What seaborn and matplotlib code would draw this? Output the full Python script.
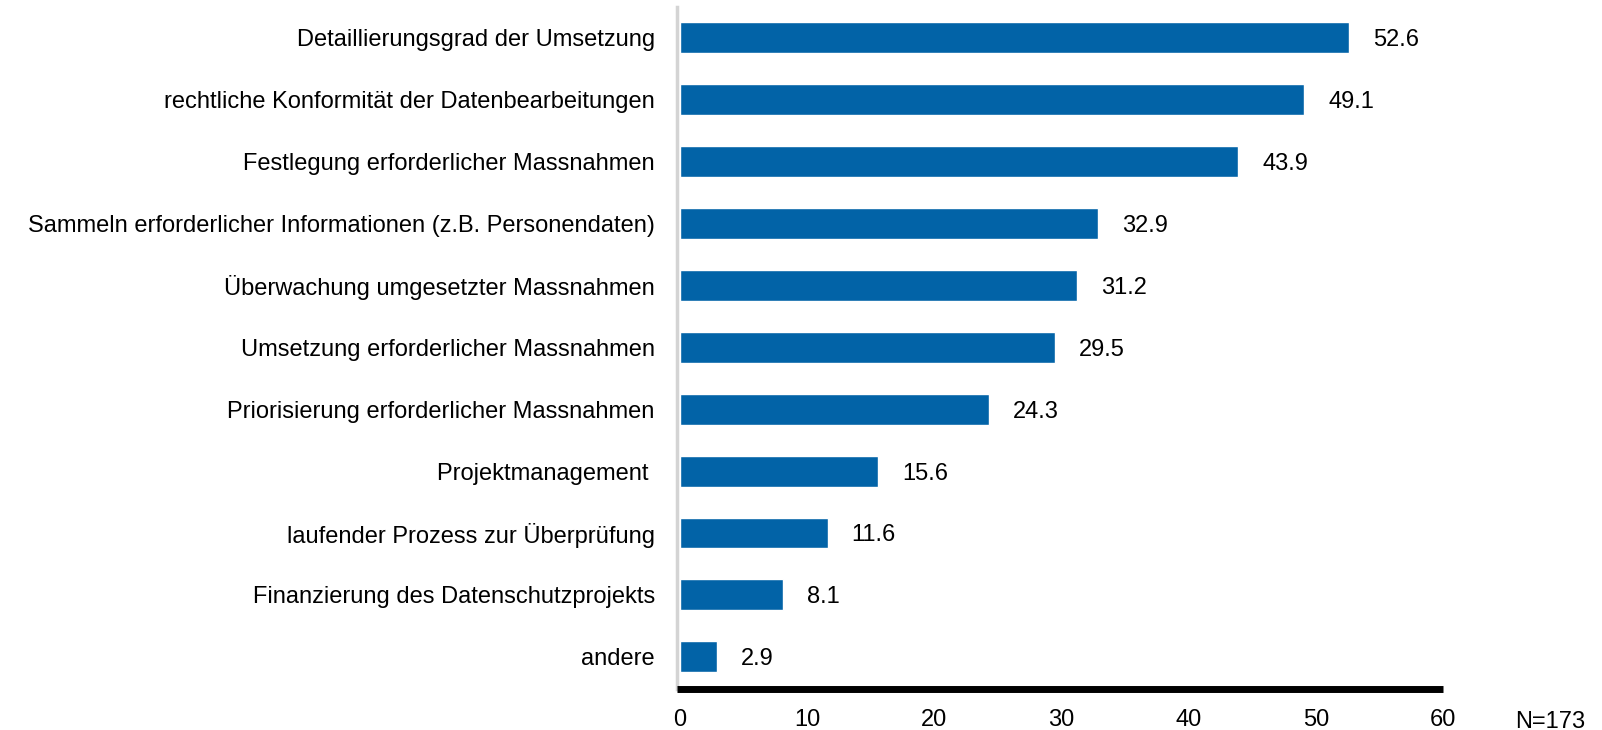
import matplotlib
matplotlib.use('Agg')
import matplotlib.pyplot as plt
import seaborn as sns
import pandas as pd

kategorien = [
    'Detaillierungsgrad der Umsetzung',
    'rechtliche Konformität der Datenbearbeitungen',
    'Festlegung erforderlicher Massnahmen',
    'Sammeln erforderlicher Informationen (z.B. Personendaten)',
    'Überwachung umgesetzter Massnahmen',
    'Umsetzung erforderlicher Massnahmen',
    'Priorisierung erforderlicher Massnahmen',
    'Projektmanagement ',
    'laufender Prozess zur Überprüfung',
    'Finanzierung des Datenschutzprojekts',
    'andere',
]
werte = [52.6, 49.1, 43.9, 32.9, 31.2, 29.5, 24.3, 15.6, 11.6, 8.1, 2.9]
x_ticks = [0, 10, 20, 30, 40, 50, 60]

df = pd.DataFrame({'kategorie': kategorien, 'wert': werte})

sns.set_style('white')
plt.rcParams['font.family'] = ['Liberation Sans', 'DejaVu Sans']
plt.rcParams['text.color'] = 'black'
plt.rcParams['xtick.color'] = 'black'
plt.rcParams['ytick.color'] = 'black'

fs = 17
W, H = 1602, 730
fig = plt.figure(figsize=(W / 100, H / 100), dpi=100)
# Achse: links 677 px, rechts 1443 px, unten 688.5 px, oben 7 px
ax = fig.add_axes([677 / W, (H - 688.5) / H, (1443 - 677) / W, (688.5 - 7) / H])

sns.barplot(data=df, x='wert', y='kategorie', color='#0263a7', width=0.5,
            saturation=1, ax=ax, orient='h')

for i, v in enumerate(werte):
    ax.text(v + 1.9, i, f'{v:.1f}', va='center_baseline', ha='left', fontsize=fs)

ax.set_xlim(-0.24, 60)
ax.set_ylim(10.51, -0.49)
ax.set_xticks(x_ticks)
ax.set_xticklabels([str(t) for t in x_ticks], fontsize=fs)
ax.tick_params(axis='x', length=0, pad=15)
ax.tick_params(axis='y', length=0, pad=16, labelsize=fs)
ax.set_xlabel('')
ax.set_ylabel('')

for s in ['top', 'right']:
    ax.spines[s].set_visible(False)
ax.spines['left'].set_color('#d4d4d4')
ax.spines['left'].set_linewidth(2.5)
ax.spines['bottom'].set_color('black')
ax.spines['bottom'].set_linewidth(5)
ax.spines['bottom'].set_capstyle('butt')

fig.text(1515 / W, 1 - 719 / H, 'N=173', ha='left', va='center_baseline', fontsize=fs)

fig.savefig('out.png', dpi=100)
plt.close()
